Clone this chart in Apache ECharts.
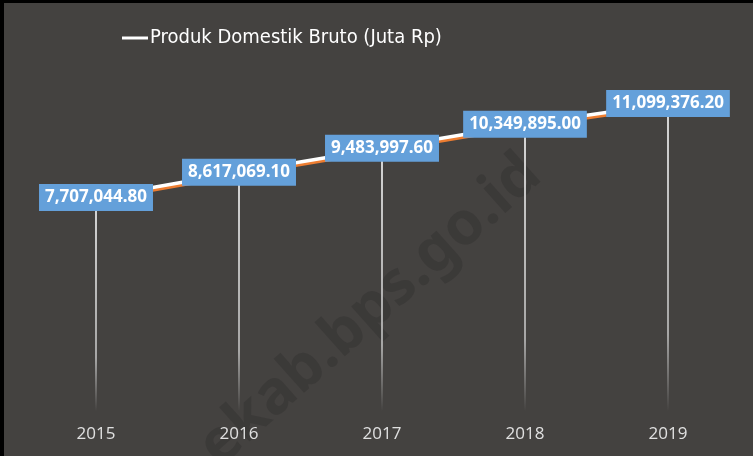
<!DOCTYPE html>
<html>
<head>
<meta charset="utf-8">
<script src="https://cdn.jsdelivr.net/npm/echarts@6/dist/echarts.min.js"></script>
<style>
html,body{margin:0;padding:0;background:#444240;}
#c{width:753px;height:456px;}
</style>
</head>
<body>
<div id="c"></div>
<script>
const categories = ['2015', '2016', '2017', '2018', '2019'];
const pdbValues = [7707044.80, 8617069.10, 9483997.60, 10349895.00, 11099376.20];
const seriesName = 'Produk Domestik Bruto (Juta Rp)';

function fmt(v) {
  return v.toLocaleString('en-US', {minimumFractionDigits: 2, maximumFractionDigits: 2});
}

const chart = echarts.init(document.getElementById('c'));
chart.setOption({
  backgroundColor: '#444240',
  animation: false,
  graphic: [
    {type: 'rect', shape: {x: 0, y: 0, width: 753, height: 3}, style: {fill: '#000'}, z: 100},
    {type: 'rect', shape: {x: 0, y: 0, width: 4, height: 456}, style: {fill: '#000'}, z: 100},
    {type: 'text', x: 228, y: 478, rotation: Math.PI * 0.232,
      style: {text: 'ekab.bps.go.id', fontSize: 60, fontWeight: 'bold', fontFamily: 'Noto Sans',
        fill: 'rgba(20,20,20,0.18)', textVerticalAlign: 'bottom'}, z: 0, silent: true}
  ],
  legend: {
    top: 23,
    left: 117,
    itemWidth: 26,
    itemHeight: 3,
    icon: 'rect',
    itemGap: 2,
    data: [{name: seriesName, itemStyle: {color: '#ffffff', opacity: 1}}],
    textStyle: {color: '#ffffff', fontSize: 20, fontFamily: 'DejaVu Sans Condensed, Open Sans, sans-serif', padding: [0,0,0,-3]}
  },
  grid: {left: 24.5, right: 13.5, top: 78.5, bottom: 45, containLabel: false},
  xAxis: {
    type: 'category',
    data: categories,
    boundaryGap: true,
    axisLine: {show: false},
    axisTick: {show: false},
    axisLabel: {color: '#e0e0e0', fontSize: 17, fontFamily: 'Open Sans', margin: 15}
  },
  yAxis: {
    type: 'value',
    min: 0,
    max: 12000000,
    show: false
  },
  series: [
    {
      type: 'bar',
      name: 'drop',
      data: pdbValues,
      barWidth: 2,
      silent: true,
      legendHoverLink: false,
      itemStyle: {
        color: new echarts.graphic.LinearGradient(0, 0, 0, 1, [
          {offset: 0, color: 'rgba(215,215,215,1)'},
          {offset: 0.75, color: 'rgba(200,200,200,0.75)'},
          {offset: 1, color: 'rgba(200,200,200,0)'}
        ])
      },
      z: 1
    },
    {
      type: 'line',
      name: seriesName,
      data: pdbValues,
      symbol: 'circle',
      symbolSize: 2,
      showSymbol: true,
      lineStyle: {color: '#ffffff', width: 3.5, shadowColor: '#ED7D31', shadowOffsetY: 2.5, shadowBlur: 0},
      itemStyle: {color: 'rgba(255,255,255,0)', borderWidth: 0},
      label: {
        show: true,
        position: 'inside',
        formatter: p => fmt(p.value),
        color: '#ffffff',
        fontSize: 17,
        fontWeight: 'bold',
        fontFamily: 'Noto Sans',
        backgroundColor: '#64A0DA',
        padding: [4, 6, 4, 6],
        lineHeight: 19
      },
      labelLayout: {hideOverlap: false},
      z: 3
    }
  ]
});
</script>
</body>
</html>
